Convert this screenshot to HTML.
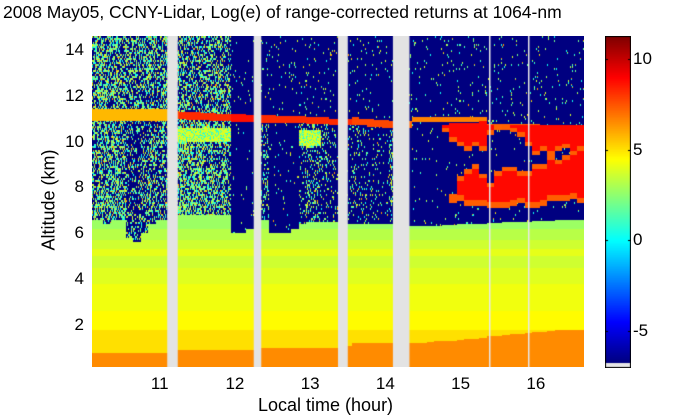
<!DOCTYPE html>
<html><head><meta charset="utf-8"><style>
html,body{margin:0;padding:0;background:#fff;width:700px;height:420px;overflow:hidden}
#wrap{position:relative;width:700px;height:420px;font-family:"Liberation Sans",sans-serif;color:#000}
.t{position:absolute;white-space:nowrap}
canvas{position:absolute}
</style></head><body>
<div id="wrap">
<div class="t" style="left:3px;top:2px;font-size:17.5px">2008 May05, CCNY-Lidar, Log(e) of range-corrected returns at 1064-nm</div>
<canvas id="hm" width="492" height="331" style="left:92px;top:36px"></canvas>
<canvas id="cb" width="26" height="332" style="left:605px;top:36px"></canvas>
<div class="t" style="left:258px;top:395px;font-size:18px">Local time (hour)</div>
<div class="t" style="left:49px;top:200px;font-size:18px;transform:translate(-50%,-50%) rotate(-90deg)">Altitude (km)</div>
<div id="labels"></div>
</div>
<script>
// ---- data ----
const times=[];for(let i=0;i<66;i++)times.push(+(10.1+0.1*i).toFixed(2));
const lowTop=[6.6,6.6,6.4,6.6,6.6,5.8,5.6,6.0,6.4,6.6, 6.6, 6.8,6.8,6.8,6.8,6.8,6.8,6.8,6.8, 6.0,6.0,6.2, 6.4, 6.6,6.0,6.0,6.0,6.2,6.4,6.5,6.5,6.5,6.5,6.5, 6.4, 6.4,6.4,6.4,6.4,6.4,6.4, 6.3,6.3, 6.3,6.3,6.3,6.3,6.35,6.35,6.4,6.4,6.4,6.4,6.45,6.45,6.5,6.5,6.5,6.5,6.55,6.55,6.55,6.6,6.6,6.6,6.6];
const spkBelow=[.55,.55,.5,.55,.5,.3,.25,.35,.45,.4, .4, .6,.6,.55,.55,.5,.5,.5,.45, .02,.02,.02, .1, .3,.03,.03,.03,.03,.2,.25,.25,.2,.15,.1, .1, .15,.15,.1,.1,.05,.3, 0,0, .02,.02,.02,.02,.02,.02,.02,.02,.02,.02,.02,.02,.02,.02,.02,.02,.02,.02,.02,.02,.02,.02,.02];
const spkAbove=[.5,.5,.5,.5,.5,.45,.45,.45,.5,.5, .5, .45,.45,.45,.45,.45,.45,.45,.4, .02,.02,.02, .04, .04,.04,.04,.04,.04,.04,.04,.04,.04,.04,.04, .04, .04,.04,.04,.04,.04,.04, .04,.04, .04,.04,.04,.04,.04,.04,.04,.04,.04,.04,.04,.04,.04,.04,.04,.04,.04,.04,.04,.04,.04,.04,.04];
const cirBase=[10.9,10.9,10.9,10.9,10.9,10.9,10.9,10.9,10.9,10.9, 10.9, 11.0,11.0,10.95,10.95,10.95,10.9,10.9,10.9, 10.85,10.85,10.85, 10.85, 10.8,10.8,10.8,10.8,10.8,10.8,10.75,10.75,10.75,10.7,10.7, 10.7, 10.7,10.7,10.65,10.65,10.6,10.6, 10.6,10.6, 10.85,10.85,10.85,10.85,10.85,10.85,10.85,10.85,10.85,10.85,10.5,10.5,10.5,10.5,10.5,10.5,10.5,10.5,10.5,10.5,10.5,10.5,10.5];
const cirTop=[11.4,11.4,11.4,11.4,11.4,11.4,11.4,11.4,11.4,11.4, 11.4, 11.35,11.3,11.3,11.3,11.25,11.25,11.2,11.2, 11.2,11.2,11.15, 11.15, 11.15,11.15,11.1,11.1,11.1,11.1,11.05,11.05,11.05,11.0,11.0, 11.0, 11.05,11.0,11.0,10.95,10.95,10.9, 10.9,10.9, 11.05,11.05,11.05,11.05,11.05,11.05,11.05,11.05,11.05,11.05,10.75,10.75,10.75,10.75,10.75,10.75,10.75,10.7,10.7,10.7,10.7,10.7,10.7];
const cirVal=[5.5,5.5,5.5,5.5,5.5,5.5,5.5,5.5,5.5,5.5, 5.5, 7.5,8,8,8,8,8,8,8, 8.5,8.5,8.5, 8, 8,8,8,8,8,8,8,8,8,8,8, 8, 7.5,7.5,7.5,7.5,7.5,7.5, 7,7, 6.5,6.5,6.5,6.5,6.5,6.5,6.5,6.5,6.5,6.5,7,7,7,7,7,7,7,7,7,7,7,7,7];
const bandBase=[0,0,0,0,0,0,0,0,0,0,0, 10.0,10.0,10.0,10.0,10.0,10.0,10.0,10.0, 0,0,0,0, 0,0,0,0,0,9.8,9.7,9.8,0,0,0, 0,0,0,0,0,0,0,0,0,0,0,0,0,0,0,0,0,0,0,0,0,0,0,0,0,0,0,0,0,0,0,0];
const bandTop=[0,0,0,0,0,0,0,0,0,0,0, 10.6,10.6,10.6,10.6,10.6,10.6,10.6,10.6, 0,0,0,0, 0,0,0,0,0,10.5,10.5,10.5,0,0,0, 0,0,0,0,0,0,0,0,0,0,0,0,0,0,0,0,0,0,0,0,0,0,0,0,0,0,0,0,0,0,0,0];
const upBase=[0,0,0,0,0,0,0,0,0,0,0,0,0,0,0,0,0,0,0,0,0,0,0,0,0,0,0,0,0,0,0,0,0,0,0,0,0,0,0,0,0,0,0,0,0,0,0, 10.4,10.0,9.8,9.6,9.8,9.6,10.3,0,10.5,10.4,10.2,9.8,9.4,9.6,9.4,9.6,9.7,9.0,9.0];
const upTop=[0,0,0,0,0,0,0,0,0,0,0,0,0,0,0,0,0,0,0,0,0,0,0,0,0,0,0,0,0,0,0,0,0,0,0,0,0,0,0,0,0,0,0,0,0,0,0, 10.7,10.8,10.8,10.8,10.8,10.9,10.7,0,10.7,10.7,10.7,10.7,10.7,10.7,10.7,10.7,10.7,10.7,10.7];
const loBase=[0,0,0,0,0,0,0,0,0,0,0,0,0,0,0,0,0,0,0,0,0,0,0,0,0,0,0,0,0,0,0,0,0,0,0,0,0,0,0,0,0,0,0,0,0,0,0,0, 7.3,7.4,7.2,7.2,7.2,7.1,7.1,7.1,7.2,7.3,7.1,7.1,7.2,7.4,7.4,7.4,7.5,7.3];
const loTop=[0,0,0,0,0,0,0,0,0,0,0,0,0,0,0,0,0,0,0,0,0,0,0,0,0,0,0,0,0,0,0,0,0,0,0,0,0,0,0,0,0,0,0,0,0,0,0,0, 7.7,8.5,8.8,9.0,8.6,8.2,8.7,8.9,8.9,8.7,8.7,9.0,9.0,9.4,9.2,9.4,9.6,9.8];
const pblTop=[0.8,0.8,0.8,0.8,0.8,0.8,0.8,0.8,0.8,0.8, 0.8, 0.9,0.9,0.9,0.9,0.9,0.9,0.9,0.9,0.9,0.9,0.9, 0.95, 1.0,1.0,1.0,1.0,1.0,1.0,1.0,1.0,1.0,1.0,1.0, 1.1, 1.2,1.2,1.2,1.2,1.2,1.2, 1.2,1.2, 1.2,1.2,1.25,1.3,1.3,1.3,1.35,1.4,1.4,1.45,1.5,1.5,1.55,1.6,1.6,1.65,1.7,1.7,1.75,1.8,1.8,1.8,1.8];
const profAlt=[1.8,2.6,3.8,4.5,5.0,5.3,5.7,6.2,7.0];
const profVal=[4.8,4.3,4.0,3.7,3.4,3.8,3.4,3.0,2.5];
const pblVal=6.3, cloudVal=8.6, clearVal=-7;
const gaps=[[11.1,11.24],[12.25,12.35],[13.37,13.5],[14.1,14.32]];
const seams=[15.38,15.9];
const xTicks=[11,12,13,14,15,16];
const yTicks=[2,4,6,8,10,12,14];
const cTicks=[10,5,0,-5];
// ---- axes ----
const PX=92,PY=36,PW=492,PH=331;
const T0=10.1,T1=16.64,A0=0.17,A1=14.6,V0=-7,V1=11;
const xs=t=>(t-T0)/(T1-T0)*PW;
const ys=a=>PH-(a-A0)/(A1-A0)*PH;
const cy=v=>331-(v-V0)/(V1-V0)*326;
function jet(v){let f=(v-V0)/(V1-V0);f=Math.max(0,Math.min(1,f));
 const c=x=>Math.round(255*Math.max(0,Math.min(1,1.5-Math.abs(4*f-x))));return [c(3),c(2),c(1)];}
function hash(x,y){let h=(x*374761393+y*668265263)|0;h=(h^(h>>>13))*1274126177|0;return ((h^(h>>>16))>>>0)/4294967295;}
function valueAt(i,a,px,py){
 if(a<pblTop[i]) return pblVal;
 if(a<lowTop[i]){let v=profVal[profVal.length-1];for(let k=0;k<profAlt.length;k++){if(a<profAlt[k]){v=profVal[k];break;}}return v;}
 if(loTop[i]&&a>=loBase[i]&&a<loTop[i]) return cloudVal-(a<loBase[i]+0.25||a>loTop[i]-0.2?1.5:0);
 if(upTop[i]&&a>=upBase[i]&&a<upTop[i]) return cloudVal-(a<upBase[i]+0.2?1.5:0);
 if(a>=cirBase[i]&&a<cirTop[i]) return cirVal[i];
 if(bandTop[i]&&a>=bandBase[i]&&a<bandTop[i]) return hash(px,py)<0.75?3.6:0.5;
 const s=a<cirBase[i]?spkBelow[i]:spkAbove[i];
 const h=hash(px,py>>1);
 if(h<s){const h2=hash(py+7,px+3);return h2<0.3?0:h2<0.6?1.8:h2<0.9?3.5:6;}
 return clearVal;
}
const hm=document.getElementById('hm'),ctx=hm.getContext('2d');
const img=ctx.createImageData(PW,PH);
for(let px=0;px<PW;px++){const t=T0+(px+0.5)/PW*(T1-T0);
 let i=Math.round((t-times[0])/0.1);i=Math.max(0,Math.min(times.length-1,i));
 for(let py=0;py<PH;py++){const a=A1-(py+0.5)/PH*(A1-A0);
  const c=jet(valueAt(i,a,px,py));const o=(py*PW+px)*4;
  img.data[o]=c[0];img.data[o+1]=c[1];img.data[o+2]=c[2];img.data[o+3]=255;}}
ctx.putImageData(img,0,0);
gaps.forEach(g=>{ctx.fillStyle='#e3e3e3';ctx.fillRect(xs(g[0]),0,xs(g[1])-xs(g[0]),PH);});
seams.forEach(s=>{ctx.fillStyle='#e8e8e8';ctx.fillRect(Math.round(xs(s)),0,1.5,PH);});
// colorbar
const cb=document.getElementById('cb'),cc=cb.getContext('2d');
for(let y=0;y<326;y++){const v=V0+(326-y-0.5)/326*(V1-V0);const c=jet(v);cc.fillStyle=`rgb(${c})`;cc.fillRect(1,y+1,24,1);}
cc.fillStyle='#e6e6e6';cc.fillRect(1,327,24,4);
cc.strokeStyle='#000';cc.lineWidth=1;cc.strokeRect(0.5,0.5,25,331);
cTicks.forEach(v=>{const y=Math.round(cy(v))+0.5;cc.beginPath();cc.moveTo(0,y);cc.lineTo(3,y);cc.moveTo(23,y);cc.lineTo(26,y);cc.stroke();});
// labels
const L=document.getElementById('labels');
function lab(txt,x,y,name,al){const d=document.createElement('div');d.className='t';d.textContent=txt;
 
 
 d.style.fontSize='17px';d.style.left=x+'px';d.style.top=y+'px';d.style.transform=al;L.appendChild(d);}
xTicks.forEach(t=>lab(String(t),PX+xs(t),384,'x-tick-label','translate(-50%,-50%)'));
yTicks.forEach(a=>lab(String(a),84,PY+ys(a),'y-tick-label','translate(-100%,-50%)'));
cTicks.forEach(v=>lab(String(v),633,36+cy(v),'colorbar-tick-label','translate(0,-50%)'));
</script>
</body></html>
